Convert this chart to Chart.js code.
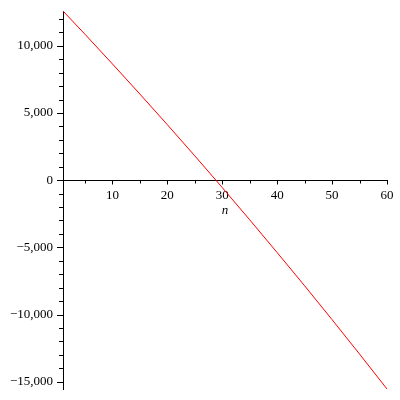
<!DOCTYPE html>
<html><head><meta charset="utf-8">
<script src="https://cdn.jsdelivr.net/npm/chart.js@4.4.0/dist/chart.umd.min.js"></script>
<style>html,body{margin:0;padding:0;background:#fff}canvas{display:block}</style>
</head><body>
<canvas id="c" width="400" height="400"></canvas>
<script>
const nValues = [1, 5, 10, 15, 20, 25, 30, 35, 40, 45, 50, 55, 60];
const aValues = [12590, 10860, 8650, 6410, 4130, 1810, -550, -2950, -5390, -7860, -10380, -12940, -15540];
const xTickValues = [10, 20, 30, 40, 50, 60];
const xMinorValues = [5, 15, 25, 35, 45, 55];
const yTickValues = [-15000, -10000, -5000, 0, 5000, 10000];
const yMinorValues = [-14000, -13000, -12000, -11000, -9000, -8000, -7000, -6000, -4000, -3000, -2000, -1000,
  1000, 2000, 3000, 4000, 6000, 7000, 8000, 9000, 11000, 12000];
const xAxisTitle = 'n';

const FONT = '"Liberation Serif", "Times New Roman", serif';

function fmt(v) {
  const s = Math.abs(v).toLocaleString('en-US');
  return v < 0 ? '\u2212' + s : s;
}

const tickPlugin = {
  id: 'maple-ticks',
  afterDraw(chart) {
    const ctx = chart.ctx, xs = chart.scales.x, ys = chart.scales.y;
    const ax = chart.chartArea.left;
    const ay = Math.round(ys.getPixelForValue(0)) + 0.5;
    ctx.save();
    ctx.strokeStyle = '#000';
    ctx.lineWidth = 1;
    ctx.beginPath();
    yTickValues.forEach(v => { const p = Math.round(ys.getPixelForValue(v)) + 0.5; ctx.moveTo(ax - 6, p); ctx.lineTo(ax, p); });
    yMinorValues.forEach(v => { const p = Math.round(ys.getPixelForValue(v)) + 0.5; ctx.moveTo(ax - 4, p); ctx.lineTo(ax, p); });
    xTickValues.forEach(v => { const p = Math.round(xs.getPixelForValue(v)) + 0.5; ctx.moveTo(p, ay); ctx.lineTo(p, ay + 4); });
    xMinorValues.forEach(v => { const p = Math.round(xs.getPixelForValue(v)) + 0.5; ctx.moveTo(p, ay); ctx.lineTo(p, ay + 3); });
    ctx.stroke();
    ctx.fillStyle = '#000';
    ctx.font = 'italic 13px ' + FONT;
    ctx.textAlign = 'center';
    ctx.textBaseline = 'middle';
    ctx.fillText(xAxisTitle, (chart.chartArea.left + chart.chartArea.right) / 2, ys.getPixelForValue(0) + 30);
    ctx.restore();
  }
};

new Chart(document.getElementById('c'), {
  type: 'line',
  data: {
    datasets: [{
      data: nValues.map((n, i) => ({ x: n, y: aValues[i] })),
      borderColor: '#ff0000',
      borderWidth: 1,
      pointRadius: 0,
      fill: false,
      cubicInterpolationMode: 'monotone'
    }]
  },
  options: {
    responsive: false,
    animation: false,
    devicePixelRatio: 1,
    layout: { padding: { top: 11, right: 13, left: 0, bottom: 11 } },
    plugins: { legend: { display: false }, tooltip: { enabled: false } },
    scales: {
      x: {
        type: 'linear',
        position: { y: 0 },
        min: nValues[0],
        max: nValues[nValues.length - 1],
        afterBuildTicks: s => { s.ticks = xTickValues.map(v => ({ value: v })); },
        afterFit: s => { s.height = 0; s.paddingLeft = 0; s.paddingRight = 0; s.paddingTop = 0; s.paddingBottom = 0; },
        grid: { display: false, drawTicks: false },
        border: { display: true, color: '#000', width: 1 },
        ticks: { color: '#000', font: { family: FONT, size: 13 }, padding: 8, maxRotation: 0, autoSkip: false,
          callback: v => String(v) }
      },
      y: {
        type: 'linear',
        position: 'left',
        min: Math.min(...aValues),
        max: Math.max(...aValues),
        afterBuildTicks: s => { s.ticks = yTickValues.map(v => ({ value: v })); },
        afterFit: s => { s.width = 63; s.paddingLeft = 0; s.paddingRight = 0; s.paddingTop = 0; s.paddingBottom = 0; },
        grid: { display: false, drawTicks: false },
        border: { display: true, color: '#000', width: 1 },
        ticks: { color: '#000', font: { family: FONT, size: 13 }, padding: 10, autoSkip: false,
          callback: v => fmt(v) }
      }
    }
  },
  plugins: [tickPlugin]
});
</script>
</body></html>
